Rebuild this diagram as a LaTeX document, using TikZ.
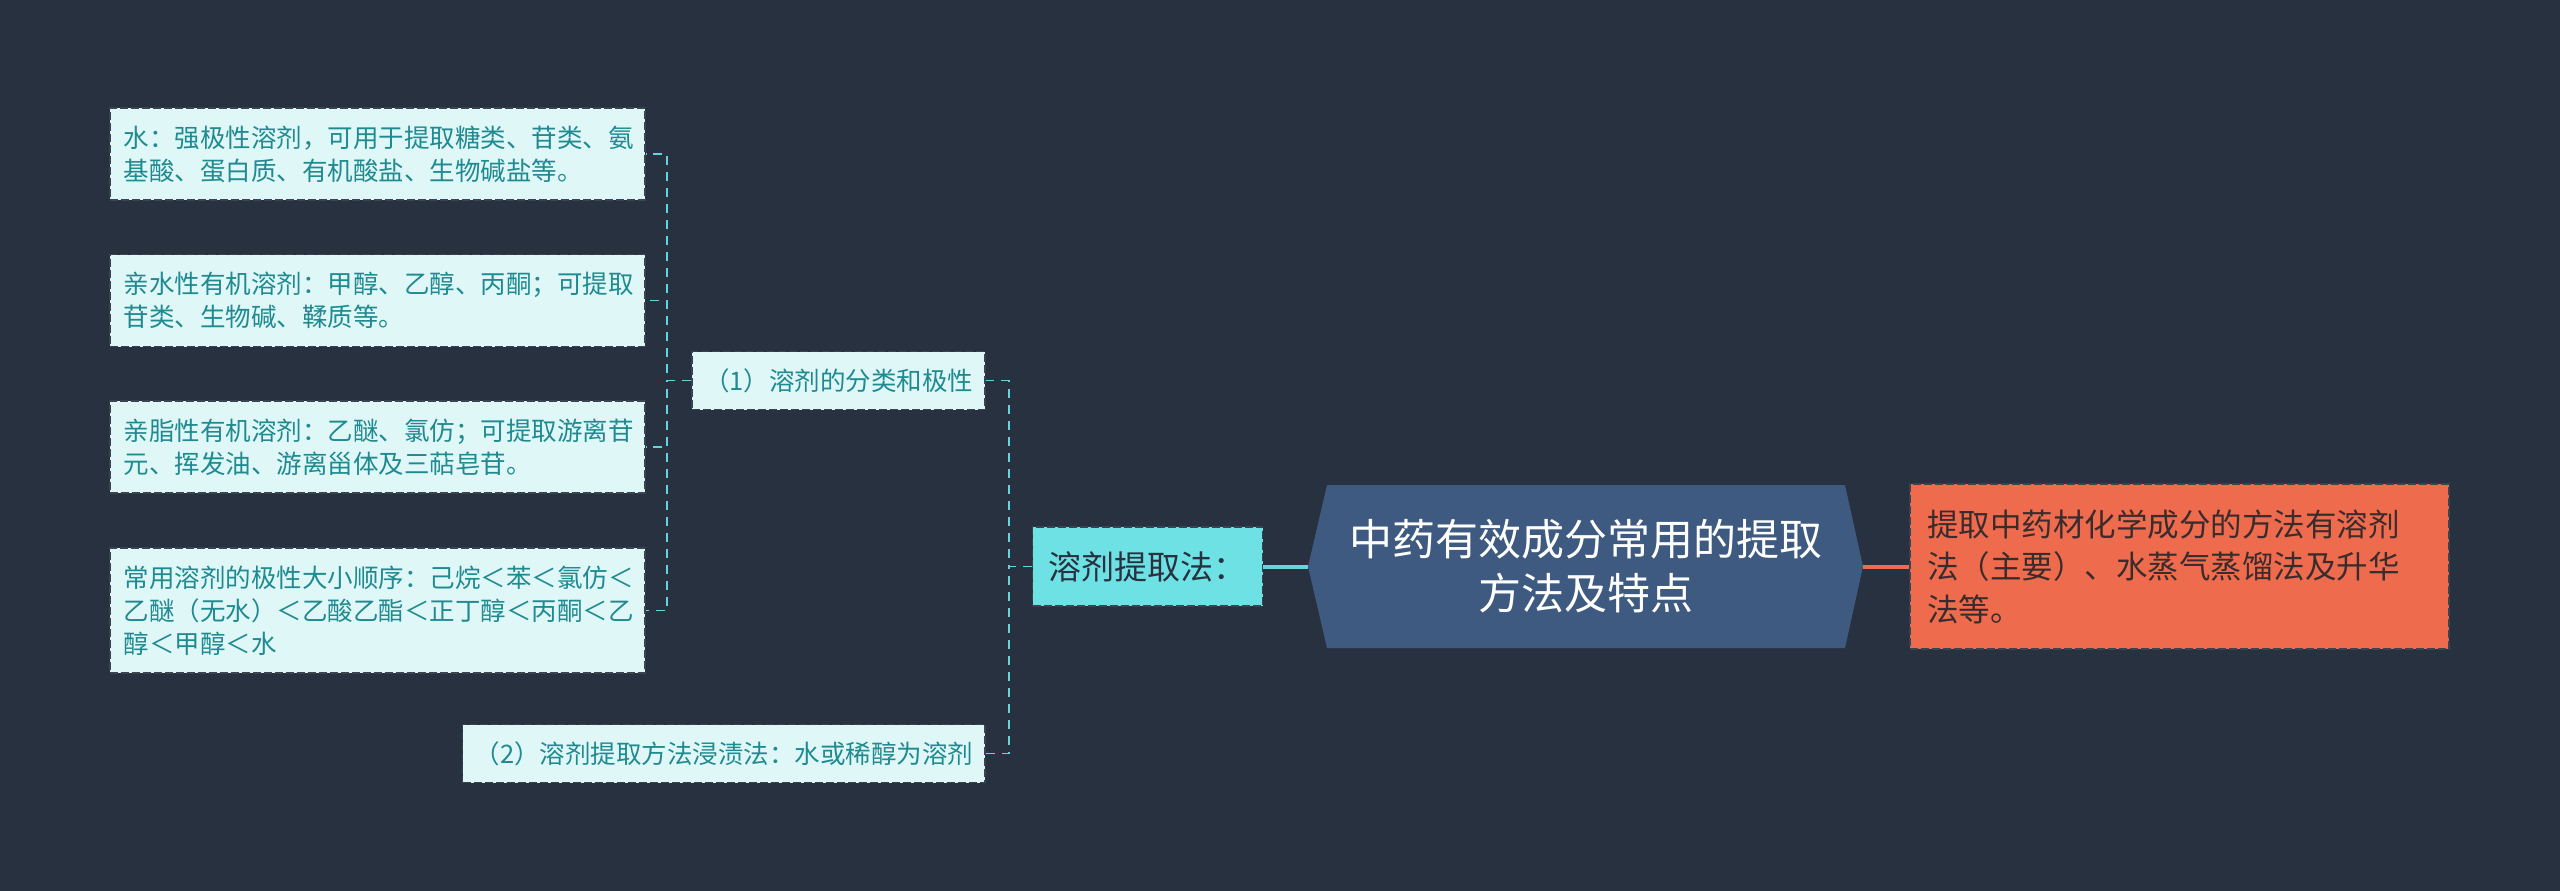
\documentclass[tikz,border=0pt]{standalone}
\usepackage{fontspec}
\setmainfont{Noto Sans CJK SC}
\usepackage{xcolor}
\usetikzlibrary{positioning}

\definecolor{bgdark}{HTML}{283140}
\definecolor{leaffill}{HTML}{E0F7F8}
\definecolor{leaftext}{HTML}{1F8A8F}
\definecolor{leafline}{HTML}{62D5DD}
\definecolor{rimgray}{HTML}{3A4350}
\definecolor{solvfill}{HTML}{6DE1E4}
\definecolor{hubblue}{HTML}{3E5A80}
\definecolor{noteorange}{HTML}{EE6B4D}
\definecolor{notetext}{HTML}{3A2C2C}

\begin{document}
\begin{tikzpicture}[
    x=1pt, y=-1pt,
    leaf/.style={rectangle, draw=rimgray, dash pattern=on 8pt off 3pt, line width=1.6pt,
                 fill=leaffill, text=leaftext, font={\fontsize{25.5}{33}\selectfont},
                 align=left, text width=507pt, inner xsep=14pt, inner ysep=0pt,
                 minimum height=92pt},
    branch/.style={leaf, text width=, align=center, inner xsep=12pt,
                   minimum height=58pt, anchor=east},
    solvbox/.style={rectangle, draw=rimgray, dash pattern=on 8pt off 3pt, line width=1.6pt,
                    fill=solvfill, text=bgdark, font={\fontsize{33}{40}\selectfont},
                    inner xsep=16pt, inner ysep=0pt, minimum height=79pt},
    hubbox/.style={rectangle, text=white, font={\fontsize{43}{54}\selectfont},
                   align=center, inner sep=0pt, minimum width=555pt, minimum height=163pt},
    notebox/.style={rectangle, draw=rimgray, dash pattern=on 8pt off 3pt, line width=1.6pt,
                    fill=noteorange, text=notetext, font={\fontsize{31.5}{42.5}\selectfont},
                    align=left, text width=505pt, inner xsep=17pt, inner ysep=0pt,
                    minimum height=165pt},
    link/.style={leafline, line width=1.6pt, dash pattern=on 9pt off 7pt},
    mainlink/.style={line width=4pt},
    node distance=53pt
]

\fill[bgdark] (0,0) rectangle (2560,891);
\useasboundingbox (0,0) rectangle (2560,891);

% solvent classes
\node[leaf, anchor=west] (w1) at (109,154) {水：强极性溶剂，可用于提取糖类、苷类、氨\\基酸、蛋白质、有机酸盐、生物碱盐等。};
\node[leaf, below=of w1] (w2) {亲水性有机溶剂：甲醇、乙醇、丙酮；可提取\\苷类、生物碱、鞣质等。};
\node[leaf, below=of w2] (w3) {亲脂性有机溶剂：乙醚、氯仿；可提取游离苷\\元、挥发油、游离甾体及三萜皂苷。};
\node[leaf, below=of w3, minimum height=125pt] (w4) {常用溶剂的极性大小顺序：己烷＜苯＜氯仿＜\\乙醚（无水）＜乙酸乙酯＜正丁醇＜丙酮＜乙\\醇＜甲醇＜水};

% second level
\node[branch] (cls) at (986,380.5) {（1）溶剂的分类和极性};
\node[branch] (meth) at (986,753.5) {（2）溶剂提取方法浸渍法：水或稀醇为溶剂};

% main branch
\node[solvbox] (solv) at (1147.5,566.5) {溶剂提取法：};
\node[hubbox, path picture={
    \fill[hubblue] (path picture bounding box.west)
      -- ([xshift=19pt]path picture bounding box.north west)
      -- ([xshift=-18pt]path picture bounding box.north east)
      -- (path picture bounding box.east)
      -- ([xshift=-18pt]path picture bounding box.south east)
      -- ([xshift=19pt]path picture bounding box.south west) -- cycle;}]
  (hub) at (1585.5,566.5) {中药有效成分常用的提取\\方法及特点};
\node[notebox] (note) at (2179.5,566.5) {提取中药材化学成分的方法有溶剂\\法（主要）、水蒸气蒸馏法及升华\\法等。};

% connectors
\foreach \n in {w1,w2,w3,w4}
  \draw[link] (cls.west) -- ++(-24,0) |- (\n.east);
\draw[link] (solv.west) -- ++(-23,0) |- (cls.east);
\draw[link] (solv.west) -- ++(-23,0) |- (meth.east);
\draw[mainlink, leafline] (solv) -- (hub);
\draw[mainlink, noteorange] (hub) -- (note);

\end{tikzpicture}
\end{document}
